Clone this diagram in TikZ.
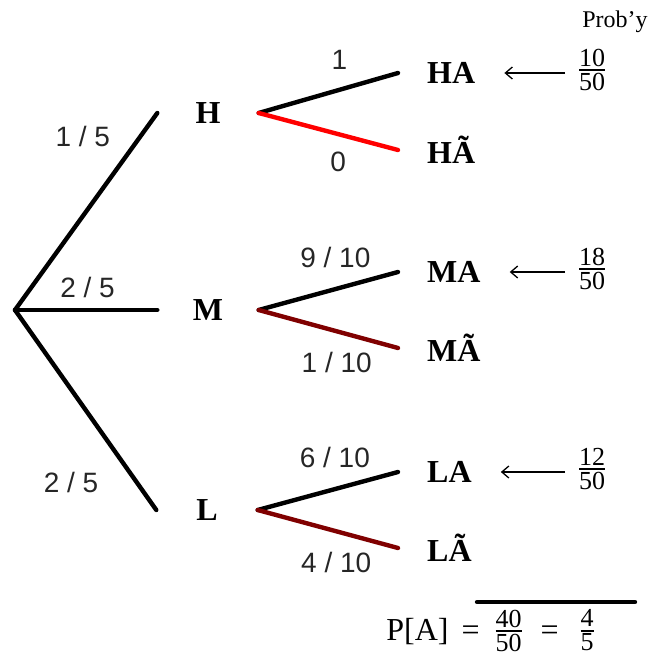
\documentclass[tikz,border=0pt]{standalone}
\usepackage{fontspec}
\setmainfont{Liberation Serif}
\newfontfamily\labfont{Liberation Sans}
\usetikzlibrary{positioning,arrows.meta}
\setlength{\arrayrulewidth}{1.8pt}
\newcommand{\fr}[2]{\begin{tabular}{@{}c@{}}#1\\[-4pt]\hline\rule{0pt}{19pt}#2\end{tabular}}
\tikzset{
  % --- tree nodes ------------------------------------------------------
  stage/.style  ={font=\fontsize{32}{34}\selectfont\bfseries, minimum width=101pt,
                  inner sep=0pt},
  leaf/.style   ={font=\fontsize{32}{34}\selectfont\bfseries, anchor=west,
                  inner xsep=29pt, inner ysep=0pt},
  prob/.style   ={font=\fontsize{26}{24}\selectfont, anchor=west, inner ysep=0pt,
                  inner xsep=14pt},
  % --- branches --------------------------------------------------------
  branch/.style ={line width=4.4pt, draw=black, line cap=round},
  zero/.style   ={branch, draw=red},
  miss/.style   ={branch, draw=red!50!black},
  arrow/.style  ={-{Straight Barb[length=7pt, width=12pt, line width=1.3pt]},
                  line width=1.3pt},
  % --- annotation ------------------------------------------------------
  lab/.style    ={font=\labfont\fontsize{28}{30}\selectfont, text=black!85,
                  inner sep=0pt},
  note/.style   ={font=\fontsize{24}{26}\selectfont},
}

\begin{document}
\begin{tikzpicture}[x=1pt, y=-1pt]
  \useasboundingbox (0,0) rectangle (655,663);

  % ============================ first stage ============================
  \coordinate (root) at (15,310);
  \node[stage] (H) at (208,113) {H};
  \node[stage] (M) at (208,310) {M};
  \node[stage] (L) at (207,510) {L};

  \draw[branch] (root) -- node[lab, pos=0.88, anchor=east, xshift=-28pt]{1 / 5} (H.west);
  \draw[branch] (root) -- node[lab, pos=0.51, above=10pt]{2 / 5} (M.west);
  \draw[branch] (root) -- node[lab, pos=0.86, anchor=east, xshift=-36pt]{2 / 5} (L.west);

  % ============================ second stage ============================
  \node[leaf] (HA) at (398,73)  {HA};
  \node[leaf] (HN) at (398,150) {HÃ};
  \node[leaf] (MA) at (398,272) {MA};
  \node[leaf] (MN) at (398,348) {MÃ};
  \node[leaf] (LA) at (398,472) {LA};
  \node[leaf] (LN) at (398,548) {LÃ};

  \draw[branch] (H.east) -- node[lab, pos=0.58, above=18pt]{1} (HA.west);
  \draw[zero]   (H.east) -- node[lab, pos=0.57, below=16pt]{0} (HN.west);
  \draw[branch] (M.east) -- node[lab, pos=0.55, above=19pt]{9 / 10} (MA.west);
  \draw[miss]   (M.east) -- node[lab, pos=0.56, below=19pt]{1 / 10} (MN.west);
  \draw[branch] (L.east) -- node[lab, pos=0.55, above=19pt]{6 / 10} (LA.west);
  \draw[miss]   (L.east) -- node[lab, pos=0.56, below=19pt]{4 / 10} (LN.west);

  % ============================ probabilities ============================
  \node[note] (hdr) at (615,22) {Prob'y};
  \node[prob] (pH) at (565,73)  {\fr{10}{50}};
  \node[prob] (pM) at (565,272) {\fr{18}{50}};
  \node[prob] (pL) at (565,472) {\fr{12}{50}};

  \draw[arrow] (pH.west) -- (HA.east);
  \draw[arrow] (pM.west) -- (MA.east);
  \draw[arrow] (pL.west) -- (LA.east);

  % ============================ total ============================
  \coordinate (barL) at (477,602);
  \coordinate (barR) at (635,602);
  \draw[line width=4.4pt, line cap=round] (barL) -- (barR);
  \node[font=\fontsize{32}{34}\selectfont] (pA) at (490,634)
    {P[A]\hspace{13pt}=\hspace{16pt}{\fontsize{26}{24}\selectfont\fr{40}{50}}\hspace{19pt}=\hspace{22pt}{\fontsize{26}{24}\selectfont\fr{4}{5}}};
\end{tikzpicture}
\end{document}
